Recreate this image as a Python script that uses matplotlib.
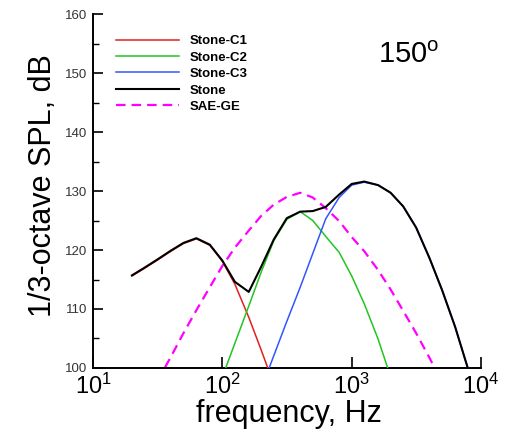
import matplotlib
matplotlib.use("Agg")
import matplotlib.pyplot as plt
from matplotlib.ticker import MultipleLocator, NullLocator, LogLocator

plt.rcParams['font.family'] = ['Liberation Sans', 'DejaVu Sans']
plt.rcParams['mathtext.fontset'] = 'custom'
plt.rcParams['mathtext.rm'] = 'Liberation Sans'
plt.rcParams['mathtext.it'] = 'Liberation Sans:italic'
plt.rcParams['mathtext.bf'] = 'Liberation Sans:bold'

# 1/3-octave band centre frequencies, Hz
freq_stone = [20, 25, 31.5, 40, 50, 63, 80, 100, 125, 160, 200, 250, 315, 400,
              500, 630, 800, 1000, 1250, 1600, 2000, 2500, 3150, 4000, 5000,
              6300, 8000]
spl_stone = [115.7, 117.0, 118.4, 119.9, 121.2, 122.0, 120.9, 118.2, 114.6,
             112.9, 117.2, 121.8, 125.4, 126.5, 126.6, 127.3, 129.4, 131.2,
             131.6, 131.0, 129.7, 127.4, 123.8, 118.6, 113.2, 107.0, 99.6]

freq_c1 = [20, 25, 31.5, 40, 50, 63, 80, 100, 125, 160, 200, 250]
spl_c1 = [115.6, 116.9, 118.3, 119.8, 121.1, 121.9, 120.8, 118.1, 114.2,
          108.6, 103.0, 97.2]

freq_c2 = [100, 125, 160, 200, 250, 315, 400, 500, 630, 800, 1000, 1250,
           1600, 2000]
spl_c2 = [98.5, 104.2, 110.5, 116.3, 121.6, 125.2, 126.5, 125.0, 122.3,
          119.6, 115.6, 110.9, 104.9, 98.5]

freq_c3 = [200, 250, 315, 400, 500, 630, 800, 1000, 1250, 1600, 2000, 2500,
           3150, 4000, 5000, 6300, 8000]
spl_c3 = [96.5, 102.1, 107.9, 113.7, 119.4, 125.3, 128.9, 131.0, 131.5,
          131.0, 129.7, 127.4, 123.8, 118.6, 113.2, 107.0, 99.6]

freq_sae = [31.5, 40, 50, 63, 80, 100, 125, 160, 200, 250, 315, 400, 500,
            630, 800, 1000, 1250, 1600, 2000, 2500, 3150, 4000, 5000]
spl_sae = [97.8, 101.9, 105.9, 109.8, 113.7, 117.3, 120.4, 123.3, 125.8,
           127.7, 129.0, 129.7, 128.9, 127.1, 124.9, 122.2, 119.8, 116.6,
           113.3, 109.7, 105.9, 101.7, 97.5]

fig = plt.figure(figsize=(5.1, 4.3), dpi=100)
ax = fig.add_axes([0.1824, 0.1442, 0.7608, 0.8232])

ax.plot(freq_c1, spl_c1, color='#e02020', lw=1.1, label='Stone-C1', zorder=3)
ax.plot(freq_c2, spl_c2, color='#22c422', lw=1.1, label='Stone-C2', zorder=3)
ax.plot(freq_c3, spl_c3, color='#3355ff', lw=1.1, label='Stone-C3', zorder=3)
ax.plot(freq_stone, spl_stone, color='black', lw=1.5, label='Stone', zorder=4)
ax.plot(freq_sae, spl_sae, color='#ff00ff', lw=1.6, dashes=(4.3, 2.7),
        label='SAE-GE', zorder=2)

ax.set_xscale('log')
ax.set_xlim(10, 1e4)
ax.set_ylim(100, 160)
ax.xaxis.set_major_locator(LogLocator(base=10, numticks=10))
ax.xaxis.set_minor_locator(NullLocator())
ax.yaxis.set_major_locator(MultipleLocator(10))
ax.yaxis.set_minor_locator(MultipleLocator(5))

for side in ('top', 'right'):
    ax.spines[side].set_visible(False)
for side in ('left', 'bottom'):
    ax.spines[side].set_linewidth(1.4)

ax.tick_params(axis='y', which='major', direction='in', length=7, width=1.2,
               labelsize=9.5, labelcolor='#333333', pad=4.3)
ax.tick_params(axis='y', which='minor', direction='in', length=4, width=1.0)
ax.tick_params(axis='x', which='major', direction='in', length=8, width=1.2,
               labelsize=17, pad=4)

ax.set_xlabel('frequency, Hz', fontsize=22)
ax.set_ylabel('1/3-octave SPL, dB', fontsize=22)
ax.xaxis.set_label_coords(0.504, -0.089)
ax.xaxis.label.set_verticalalignment('top')
ax.yaxis.label.set_verticalalignment('bottom')
ax.yaxis.set_label_coords(-0.090, 0.514)

ax.text(0.735, 0.862, '150$^\\mathrm{o}$', transform=ax.transAxes,
        fontsize=21, va='baseline', ha='left')

ax.legend(loc='upper left', bbox_to_anchor=(0.059, 0.941), frameon=False,
          prop={'family': 'Liberation Sans', 'weight': 'bold', 'size': 9.5},
          handlelength=4.77, handletextpad=0.83, labelspacing=0.32,
          borderpad=0, borderaxespad=0)

fig.savefig('out.png', dpi=100)
